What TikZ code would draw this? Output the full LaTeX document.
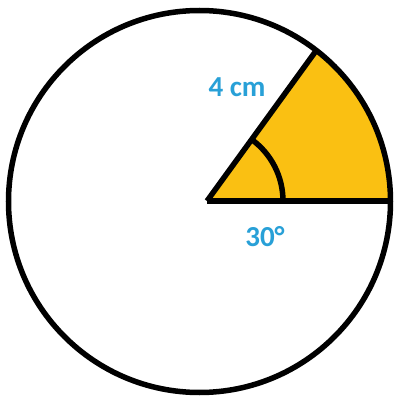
\documentclass[tikz,border=0pt]{standalone}
\usepackage{fontspec}
\usetikzlibrary{calc}
\setmainfont{Carlito}
\definecolor{sectorfill}{RGB}{250,192,18}
\definecolor{labelblue}{RGB}{40,160,215}
\tikzset{
  outline/.style={line width=5.5pt, draw=black},
  lbl/.style={text=labelblue, font=\bfseries\fontsize{29}{29}\selectfont, inner sep=0pt}
}
\begin{document}
\begin{tikzpicture}[x=1pt,y=1pt]
\useasboundingbox (0,0) rectangle (394,400);
\coordinate (C) at (199.5,198.5);
\coordinate (O) at (207,199);
\coordinate (R) at (390.5,199);
\coordinate (P) at ($(C)+(52.3:191)$);
% sector fill
\fill[sectorfill] (O) -- (R) arc[start angle=0,end angle=52.3,radius=191] -- cycle;
% circle
\draw[outline] (C) circle[radius=191];
% radii
\draw[outline] (O) -- (R);
\draw[outline] (O) -- (P);
% angle mark
\draw[outline] ($(O)+(76,0)$) arc[start angle=0,end angle=53.8,radius=76];
% labels
\node[lbl] (len) at (237,313) {4 cm};
\node[lbl] (ang) at (265,163) {30°};
\end{tikzpicture}
\end{document}
